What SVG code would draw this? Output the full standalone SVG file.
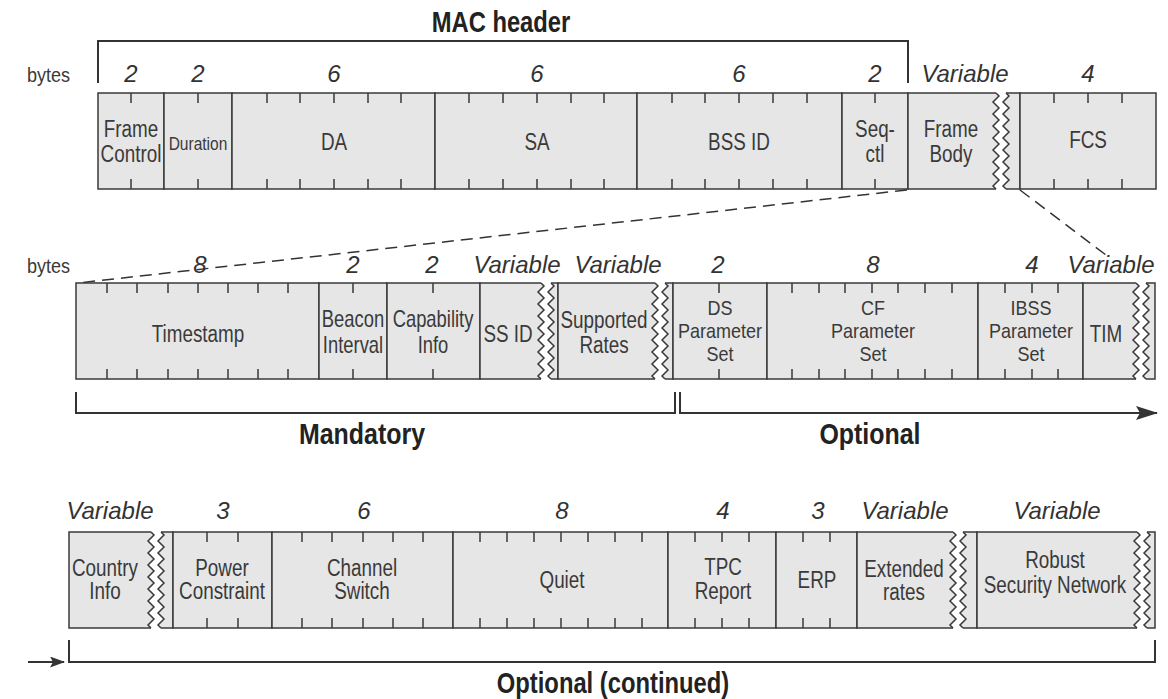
<svg xmlns="http://www.w3.org/2000/svg" xmlns:xlink="http://www.w3.org/1999/xlink" width="1168" height="699" viewBox="0 0 1168 699">
<style>
.f{fill:#e6e6e6;stroke:#3a3a3a;stroke-width:1.5}
.t{fill:none;stroke:#3a3a3a;stroke-width:1.5}
.ln{fill:none;stroke:#333;stroke-width:2}
.lb{font-family:"Liberation Sans",Arial,sans-serif;font-size:23px;fill:#3a3a3a;text-anchor:middle}
.l3{font-family:"Liberation Sans",Arial,sans-serif;font-size:20px;fill:#3a3a3a;text-anchor:middle}
.sm{font-size:18.5px}
.n{font-family:"Liberation Sans",Arial,sans-serif;font-style:italic;font-size:24px;fill:#333;text-anchor:middle}
.b{font-family:"Liberation Sans",Arial,sans-serif;font-weight:bold;font-size:29px;fill:#222;text-anchor:middle}
.by{font-family:"Liberation Sans",Arial,sans-serif;font-size:21px;fill:#3a3a3a}
.d{fill:none;stroke:#333;stroke-width:1.5;stroke-dasharray:12 7}
</style>
<defs>
<g id="gap">
<polygon fill="#fff" points="0,-2 0,0 3,3 -3,9 3,15 -3,21 3,27 -3,33 3,39 -3,45 3,51 -3,57 3,63 -3,69 3,75 -3,81 3,87 -3,93 0,96 0,98 10,98 10,96 7,93 13,87 7,81 13,75 7,69 13,63 7,57 13,51 7,45 13,39 7,33 13,27 7,21 13,15 7,9 13,3 10,0 10,-2"/>
<polyline class="t" points="0,0 3,3 -3,9 3,15 -3,21 3,27 -3,33 3,39 -3,45 3,51 -3,57 3,63 -3,69 3,75 -3,81 3,87 -3,93 0,96"/>
<polyline class="t" points="10,0 13,3 7,9 13,15 7,21 13,27 7,33 13,39 7,45 13,51 7,57 13,63 7,69 13,75 7,81 13,87 7,93 10,96"/>
</g>
<marker id="ah" viewBox="0 0 22 14" refX="21" refY="7" markerWidth="22" markerHeight="14" markerUnits="userSpaceOnUse" orient="auto">
<path d="M0,0 L22,7 L0,14 L4,7 Z" fill="#333"/>
</marker>
<marker id="ah2" viewBox="0 0 15 11" refX="14" refY="5.5" markerWidth="15" markerHeight="11" markerUnits="userSpaceOnUse" orient="auto">
<path d="M0,0 L15,5.5 L0,11 L3,5.5 Z" fill="#333"/>
</marker>
</defs>

<g id="mac-header">
<path class="ln" d="M98,83 V41 H908 V83"/>
<text class="b" transform="translate(501,32) scale(.82,1)">MAC header</text>
</g>
<text class="by" transform="translate(27,82) scale(.86,1)">bytes</text>
<text class="by" transform="translate(27,273) scale(.86,1)">bytes</text>

<!-- Top row -->
<g id="frame-control">
<rect class="f" x="98" y="93" width="66" height="96"/>
<path class="t" d="M131,93v10M131,189v-10"/>
<text class="n" x="131" y="82">2</text>
<text class="lb" transform="translate(131,137) scale(.82,1)">Frame</text><text class="lb" transform="translate(131,162) scale(.82,1)">Control</text>
</g>
<g id="duration">
<rect class="f" x="164" y="93" width="68" height="96"/>
<path class="t" d="M198,93v10M198,189v-10"/>
<text class="n" x="198" y="82">2</text>
<text class="lb sm" transform="translate(198,150) scale(.84,1)">Duration</text>
</g>
<g id="da">
<rect class="f" x="232" y="93" width="203" height="96"/>
<path class="t" d="M267,93v10M300,93v10M334,93v10M368,93v10M401,93v10M267,189v-10M300,189v-10M334,189v-10M368,189v-10M401,189v-10"/>
<text class="n" x="334" y="82">6</text>
<text class="lb" transform="translate(334,150) scale(.82,1)">DA</text>
</g>
<g id="sa">
<rect class="f" x="435" y="93" width="202" height="96"/>
<path class="t" d="M469,93v10M503,93v10M537,93v10M571,93v10M604,93v10M469,189v-10M503,189v-10M537,189v-10M571,189v-10M604,189v-10"/>
<text class="n" x="537" y="82">6</text>
<text class="lb" transform="translate(537,150) scale(.82,1)">SA</text>
</g>
<g id="bss-id">
<rect class="f" x="637" y="93" width="205" height="96"/>
<path class="t" d="M672,93v10M705,93v10M739,93v10M773,93v10M807,93v10M672,189v-10M705,189v-10M739,189v-10M773,189v-10M807,189v-10"/>
<text class="n" x="739" y="82">6</text>
<text class="lb" transform="translate(739,150) scale(.82,1)">BSS ID</text>
</g>
<g id="seq-ctl">
<rect class="f" x="842" y="93" width="66" height="96"/>
<path class="t" d="M875,93v10M875,189v-10"/>
<text class="n" x="875" y="82">2</text>
<text class="lb" transform="translate(875,137) scale(.82,1)">Seq-</text><text class="lb" transform="translate(875,162) scale(.82,1)">ctl</text>
</g>
<g id="frame-body">
<rect class="f" x="908" y="93" width="112" height="96"/>
<use xlink:href="#gap" href="#gap" x="996" y="93"/>
<text class="n" x="965" y="82">Variable</text>
<text class="lb" transform="translate(951,137) scale(.82,1)">Frame</text><text class="lb" transform="translate(951,162) scale(.82,1)">Body</text>
</g>
<g id="fcs">
<rect class="f" x="1020" y="93" width="136" height="96"/>
<path class="t" d="M1054,93v10M1088,93v10M1122,93v10M1054,189v-10M1088,189v-10M1122,189v-10"/>
<text class="n" x="1088" y="82">4</text>
<text class="lb" transform="translate(1088,148) scale(.82,1)">FCS</text>
</g>

<g id="connectors">
<line class="d" x1="907" y1="190" x2="78" y2="283"/>
<line class="d" x1="1020" y1="190" x2="1106" y2="255"/>
</g>

<!-- Middle row -->
<g id="timestamp">
<rect class="f" x="76" y="283" width="243" height="96"/>
<path class="t" d="M107,283v10M137,283v10M168,283v10M198,283v10M228,283v10M258,283v10M288,283v10M107,379v-10M137,379v-10M168,379v-10M198,379v-10M228,379v-10M258,379v-10M288,379v-10"/>
<text class="n" x="200" y="273">8</text>
<text class="lb" transform="translate(198,342) scale(.82,1)">Timestamp</text>
</g>
<g id="beacon-interval">
<rect class="f" x="319" y="283" width="68" height="96"/>
<path class="t" d="M353,283v10M353,379v-10"/>
<text class="n" x="353" y="273">2</text>
<text class="lb" transform="translate(353,327) scale(.8,1)">Beacon</text><text class="lb" transform="translate(353,353) scale(.8,1)">Interval</text>
</g>
<g id="capability-info">
<rect class="f" x="387" y="283" width="93" height="96"/>
<path class="t" d="M433,283v10M433,379v-10"/>
<text class="n" x="432" y="273">2</text>
<text class="lb" transform="translate(433,327) scale(.8,1)">Capability</text><text class="lb" transform="translate(433,353) scale(.8,1)">Info</text>
</g>
<g id="ss-id">
<rect class="f" x="480" y="283" width="78" height="96"/>
<use xlink:href="#gap" href="#gap" x="541" y="283"/>
<text class="n" x="517" y="273">Variable</text>
<text class="lb" transform="translate(508,342) scale(.82,1)">SS ID</text>
</g>
<g id="supported-rates">
<rect class="f" x="558" y="283" width="115" height="96"/>
<use xlink:href="#gap" href="#gap" x="655" y="283"/>
<text class="n" x="618" y="273">Variable</text>
<text class="lb" transform="translate(604,328) scale(.82,1)">Supported</text><text class="lb" transform="translate(604,353) scale(.82,1)">Rates</text>
</g>
<g id="ds-parameter-set">
<rect class="f" x="673" y="283" width="94" height="96"/>
<path class="t" d="M719,283v10M719,379v-10"/>
<text class="n" x="718" y="273">2</text>
<text class="l3" transform="translate(720,315) scale(.9,1)">DS</text><text class="l3" transform="translate(720,338) scale(.9,1)">Parameter</text><text class="l3" transform="translate(720,361) scale(.9,1)">Set</text>
</g>
<g id="cf-parameter-set">
<rect class="f" x="767" y="283" width="211" height="96"/>
<path class="t" d="M792,283v10M819,283v10M845,283v10M872,283v10M898,283v10M925,283v10M952,283v10M792,379v-10M819,379v-10M845,379v-10M872,379v-10M898,379v-10M925,379v-10M952,379v-10"/>
<text class="n" x="873" y="273">8</text>
<text class="l3" transform="translate(873,315) scale(.9,1)">CF</text><text class="l3" transform="translate(873,338) scale(.9,1)">Parameter</text><text class="l3" transform="translate(873,361) scale(.9,1)">Set</text>
</g>
<g id="ibss-parameter-set">
<rect class="f" x="978" y="283" width="105" height="96"/>
<path class="t" d="M1005,283v10M1032,283v10M1058,283v10M1005,379v-10M1032,379v-10M1058,379v-10"/>
<text class="n" x="1032" y="273">4</text>
<text class="l3" transform="translate(1031,315) scale(.9,1)">IBSS</text><text class="l3" transform="translate(1031,338) scale(.9,1)">Parameter</text><text class="l3" transform="translate(1031,361) scale(.9,1)">Set</text>
</g>
<g id="tim">
<rect class="f" x="1083" y="283" width="72" height="96"/>
<use xlink:href="#gap" href="#gap" x="1136" y="283"/>
<text class="n" x="1111" y="273">Variable</text>
<text class="lb" transform="translate(1106,342) scale(.82,1)">TIM</text>
</g>

<g id="mandatory">
<path class="ln" d="M76,392 V413 H675 V392"/>
<text class="b" transform="translate(362,444) scale(.86,1)">Mandatory</text>
</g>
<g id="optional">
<path class="ln" d="M680,392 V413 H1157" marker-end="url(#ah)"/>
<text class="b" transform="translate(870,444) scale(.86,1)">Optional</text>
</g>

<!-- Bottom row -->
<g id="country-info">
<rect class="f" x="69" y="532" width="104" height="96"/>
<use xlink:href="#gap" href="#gap" x="151" y="532"/>
<text class="n" x="110" y="519">Variable</text>
<text class="lb" transform="translate(105,576) scale(.82,1)">Country</text><text class="lb" transform="translate(105,599) scale(.82,1)">Info</text>
</g>
<g id="power-constraint">
<rect class="f" x="173" y="532" width="99" height="96"/>
<path class="t" d="M207,532v10M238,532v10M207,628v-10M238,628v-10"/>
<text class="n" x="223" y="519">3</text>
<text class="lb" transform="translate(222,576) scale(.82,1)">Power</text><text class="lb" transform="translate(222,599) scale(.82,1)">Constraint</text>
</g>
<g id="channel-switch">
<rect class="f" x="272" y="532" width="181" height="96"/>
<path class="t" d="M302,532v10M332,532v10M363,532v10M393,532v10M423,532v10M302,628v-10M332,628v-10M363,628v-10M393,628v-10M423,628v-10"/>
<text class="n" x="364" y="519">6</text>
<text class="lb" transform="translate(362,576) scale(.82,1)">Channel</text><text class="lb" transform="translate(362,599) scale(.82,1)">Switch</text>
</g>
<g id="quiet">
<rect class="f" x="453" y="532" width="215" height="96"/>
<path class="t" d="M480,532v10M507,532v10M534,532v10M561,532v10M588,532v10M615,532v10M642,532v10M480,628v-10M507,628v-10M534,628v-10M561,628v-10M588,628v-10M615,628v-10M642,628v-10"/>
<text class="n" x="562" y="519">8</text>
<text class="lb" transform="translate(562,588) scale(.82,1)">Quiet</text>
</g>
<g id="tpc-report">
<rect class="f" x="668" y="532" width="108" height="96"/>
<path class="t" d="M695,532v10M722,532v10M749,532v10M695,628v-10M722,628v-10M749,628v-10"/>
<text class="n" x="723" y="519">4</text>
<text class="lb" transform="translate(723,575) scale(.82,1)">TPC</text><text class="lb" transform="translate(723,599) scale(.82,1)">Report</text>
</g>
<g id="erp">
<rect class="f" x="776" y="532" width="81" height="96"/>
<path class="t" d="M803,532v10M830,532v10M803,628v-10M830,628v-10"/>
<text class="n" x="818" y="519">3</text>
<text class="lb" transform="translate(817,588) scale(.82,1)">ERP</text>
</g>
<g id="extended-rates">
<rect class="f" x="857" y="532" width="120" height="96"/>
<use xlink:href="#gap" href="#gap" x="953" y="532"/>
<text class="n" x="905" y="519">Variable</text>
<text class="lb" transform="translate(904,577) scale(.82,1)">Extended</text><text class="lb" transform="translate(904,600) scale(.82,1)">rates</text>
</g>
<g id="robust-security-network">
<rect class="f" x="977" y="532" width="178" height="96"/>
<use xlink:href="#gap" href="#gap" x="1137" y="532"/>
<text class="n" x="1057" y="519">Variable</text>
<text class="lb" transform="translate(1055,568) scale(.82,1)">Robust</text><text class="lb" transform="translate(1055,593) scale(.82,1)">Security Network</text>
</g>

<g id="optional-continued">
<line class="ln" x1="28" y1="662" x2="64" y2="662" marker-end="url(#ah2)"/>
<path class="ln" d="M69,640 V662 H1155 V640"/>
<text class="b" transform="translate(613,693) scale(.82,1)">Optional (continued)</text>
</g>
</svg>
